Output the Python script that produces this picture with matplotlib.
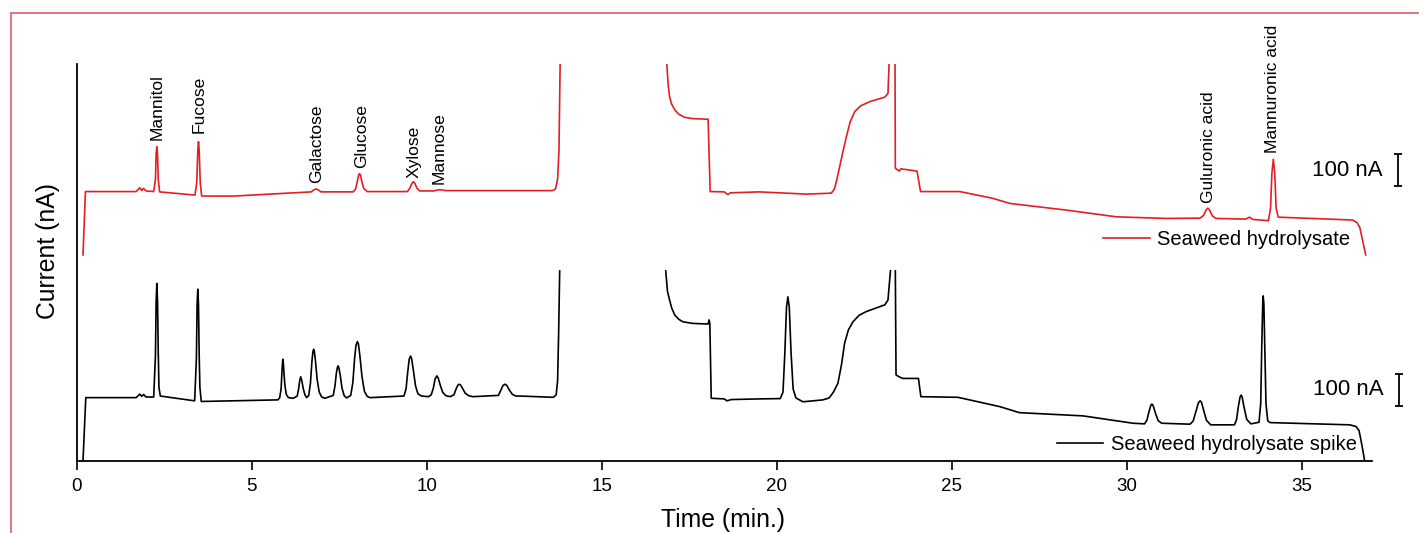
import numpy as np
import matplotlib
matplotlib.use("Agg")
import matplotlib.pyplot as plt
from matplotlib.patches import Rectangle

plt.rcParams["font.family"] = ["Liberation Sans", "DejaVu Sans"]

nan = np.nan

# Seaweed hydrolysate (red, stacked on top), time in min, current in nA
red_t = [0.18, 0.25, 1.7, 1.8, 1.86, 1.91, 1.98,
         2.2, 2.25, 2.27, 2.29, 2.31, 2.33, 2.37,
         3.38, 3.43, 3.46, 3.48, 3.50, 3.53, 3.57, 4.5,
         6.7, 6.77, 6.84, 6.91, 6.98,
         7.9, 7.97, 8.02, 8.06, 8.08, 8.11, 8.15, 8.2, 8.3,
         9.45, 9.52, 9.58, 9.62, 9.66, 9.72, 9.8, 10.2, 10.37, 10.55,
         13.6, 13.68, 13.74, 13.78, 13.82, nan,
         16.83, 16.86, 16.9, 16.94, 17.0, 17.09, 17.2, 17.37, 17.6, 18.04,
         18.1, 18.5, 18.6, 18.68, 19.5, 20.85,
         21.56, 21.65, 21.72, 21.8, 21.9, 21.99, 22.1, 22.23, 22.4, 22.66, 23.09, 23.18, 23.23, nan,
         23.38, 23.39, 23.5, 23.55, 24.01, 24.11, 25.23, 26.17, 26.66, 28.28, 29.71,
         31.13, 32.1, 32.2, 32.27, 32.32, 32.37, 32.45, 32.55, 33.4, 33.51, 33.6,
         34.05, 34.11, 34.15, 34.19, 34.23, 34.27, 34.33,
         36.46, 36.58, 36.66, 36.72, 36.83]
red_i = [644, 842, 842, 854, 845, 852, 844,
         842, 880, 960, 982, 960, 880, 841,
         831, 870, 970, 998, 970, 870, 828, 828,
         841, 847, 850, 847, 841,
         841, 850, 875, 895, 898, 893, 872, 852, 842,
         842, 853, 868, 873, 868, 853, 844, 844, 848, 845,
         845, 850, 880, 972, 1300, nan,
         1300, 1241, 1175, 1138, 1115, 1097, 1084, 1074, 1070, 1068,
         842, 841, 833, 838, 841, 834,
         837, 850, 880, 920, 970, 1013, 1060, 1092, 1110, 1123, 1137, 1149, 1300, nan,
         1300, 915, 906, 913, 906, 842, 842, 821, 805, 784, 763,
         758, 759, 768, 785, 790, 784, 766, 758, 756, 762, 755,
         751, 790, 900, 943, 900, 790, 762,
         753, 745, 730, 700, 644]

# Seaweed hydrolysate spike (black, bottom)
blk_t = [0.18, 0.26, 1.7, 1.8, 1.86, 1.91, 1.98,
         2.2, 2.25, 2.27, 2.29, 2.31, 2.33, 2.35, 2.39,
         3.37, 3.42, 3.44, 3.46, 3.48, 3.5, 3.52, 3.56, 5.75,
         5.80, 5.84, 5.86, 5.875, 5.89, 5.905, 5.925, 5.95, 5.99, 6.05, 6.19,
         6.30, 6.34, 6.37, 6.40, 6.43, 6.47, 6.52, 6.57,
         6.63, 6.68, 6.72, 6.75, 6.77, 6.79, 6.82, 6.87, 6.93, 7.0, 7.09,
         7.33, 7.38, 7.42, 7.45, 7.47, 7.49, 7.53, 7.58, 7.64, 7.71,
         7.83, 7.89, 7.94, 7.98, 8.02, 8.05, 8.09, 8.15, 8.22, 8.3, 8.38,
         9.35, 9.41, 9.46, 9.5, 9.54, 9.57, 9.62, 9.68, 9.75, 9.85, 10.05,
         10.13, 10.19, 10.24, 10.29, 10.33, 10.39, 10.46, 10.55, 10.67,
         10.78, 10.84, 10.89, 10.93, 10.97, 11.03, 11.1, 11.2, 11.32,
         12.05, 12.12, 12.18, 12.24, 12.29, 12.36, 12.45, 12.55, 12.67,
         13.62, 13.7, 13.74, 13.77, 13.8, nan,
         16.83, 16.88, 16.94, 17.0, 17.09, 17.2, 17.32, 17.6, 18.04, 18.07, 18.09,
         18.13, 18.5, 18.58, 18.7, 19.5,
         20.1, 20.18, 20.23, 20.28, 20.32, 20.36, 20.41, 20.47, 20.55, 20.75, 21.32,
         21.5, 21.62, 21.75, 21.85, 21.94, 22.05, 22.18, 22.35, 22.56, 23.09, 23.18, 23.25, nan,
         23.39, 23.41, 23.5, 23.6, 24.05, 24.12, 25.18, 26.37, 26.94, 28.75, 30.18,
         30.51, 30.58, 30.64, 30.69, 30.72, 30.76, 30.82, 30.9, 31.0,
         31.81, 31.9, 31.98, 32.05, 32.1, 32.14, 32.2, 32.28, 32.4,
         33.08, 33.14, 33.19, 33.24, 33.27, 33.3, 33.35, 33.43, 33.55,
         33.78, 33.83, 33.86, 33.89, 33.9, 33.92, 33.95, 33.98, 34.03, 34.1,
         36.37, 36.55, 36.64, 36.72, 36.8]
blk_i = [0, 198, 198, 209, 202, 208, 200,
         200, 330, 500, 555, 500, 340, 230, 203,
         188, 320, 490, 537, 490, 330, 230, 186, 191,
         198, 225, 265, 300, 318, 305, 270, 235, 208, 198, 196,
         203, 225, 250, 263, 252, 228, 207, 198,
         205, 245, 310, 342, 349, 342, 315, 255, 215, 200, 196,
         205, 235, 275, 293, 297, 292, 268, 228, 205, 197,
         205, 245, 320, 362, 373, 365, 330, 265, 218, 202, 198,
         203, 225, 280, 318, 328, 320, 283, 235, 210, 203, 201,
         207, 228, 256, 266, 259, 236, 214, 204, 201,
         207, 225, 237, 240, 237, 226, 212, 204, 201,
         205, 222, 236, 240, 236, 222, 208, 203, 203,
         199, 207, 250, 400, 594, nan,
         594, 530, 503, 478, 456, 443, 435, 430, 428, 441, 428,
         196, 194, 188, 192, 194,
         195, 215, 330, 480, 513, 480, 340, 225, 197, 185, 191,
         197, 215, 243, 300, 368, 410, 435, 455, 467, 488, 503, 594, nan,
         594, 269, 263, 258, 258, 201, 199, 170, 151, 141, 118,
         116, 128, 155, 174, 178, 172, 150, 126, 118,
         115, 125, 155, 182, 188, 183, 158, 127, 113,
         113, 130, 170, 200, 206, 200, 170, 130, 116,
         121, 180, 360, 505, 516, 490, 330, 180, 125, 120,
         113, 108, 95, 50, 0]

# peak annotations: name, time, bottom of text (nA)
peak_names = ["Mannitol", "Fucose", "Galactose", "Glucose", "Xylose", "Mannose",
              "Guluronic acid", "Mannuronic acid"]
peak_t = [2.29, 3.49, 6.86, 8.14, 9.64, 10.35, 32.35, 34.17]
peak_lab_y = [1003, 1025, 869, 917, 885, 865, 807, 962]

# 100 nA scale bars (center of bar)
bar_t = [37.74, 37.78]
bar_mid = [909, 223]
bar_len = 100

red = "#e31e24"

fig = plt.figure(figsize=(14.19, 5.33), dpi=100)
ax = fig.add_axes([0.05405, 0.1351, 0.9126, 0.7448])

l1, = ax.plot(red_t, red_i, color=red, lw=1.2, label="Seaweed hydrolysate")
l2, = ax.plot(blk_t, blk_i, color="black", lw=1.2, label="Seaweed hydrolysate spike")

for name, t, y in zip(peak_names, peak_t, peak_lab_y):
    ax.text(t, y, name, rotation=90, ha="center", va="bottom", fontsize=12.6)

for t, y in zip(bar_t, bar_mid):
    ax.errorbar([t], [y], yerr=bar_len / 2, fmt="none", ecolor="black",
                elinewidth=1.3, capsize=2.7, capthick=1.3, clip_on=False)
    ax.text(t - 0.44, y, "100 nA", ha="right", va="center", fontsize=16)

leg1 = ax.legend(handles=[l1], loc="center left", bbox_to_anchor=(0.7925, 0.558),
                 frameon=False, fontsize=14.5, handlelength=2.34, handletextpad=0.33,
                 borderpad=0, borderaxespad=0)
ax.add_artist(leg1)
ax.legend(handles=[l2], loc="center left", bbox_to_anchor=(0.7568, 0.0403),
          frameon=False, fontsize=14.5, handlelength=2.32, handletextpad=0.37,
          borderpad=0, borderaxespad=0)

ax.set_xlim(0, 37.0)
ax.set_ylim(0, 1240.6)
ax.set_xticks([0, 5, 10, 15, 20, 25, 30, 35])
ax.set_yticks([])
ax.tick_params(axis="x", length=6.5, width=1.2, pad=6, labelsize=13.5)
for s in ["top", "right"]:
    ax.spines[s].set_visible(False)
for s in ["left", "bottom"]:
    ax.spines[s].set_linewidth(1.3)

ax.set_xlabel("Time (min.)", fontsize=17.8)
ax.xaxis.set_label_coords(0.499, -0.149)
ax.xaxis.label.set_va("center")
ax.set_ylabel("Current (nA)", fontsize=17.8)
ax.yaxis.set_label_coords(-0.0219, 0.528)
ax.yaxis.label.set_va("center")

# red frame around the figure (open at right/bottom edges)
fig.add_artist(Rectangle((11 / 1419, -0.1), 1.2, (533 - 13) / 533 + 0.1,
                         transform=fig.transFigure, fill=False,
                         edgecolor="#e35a66", lw=1.2))

fig.savefig("out.png", dpi=100)
